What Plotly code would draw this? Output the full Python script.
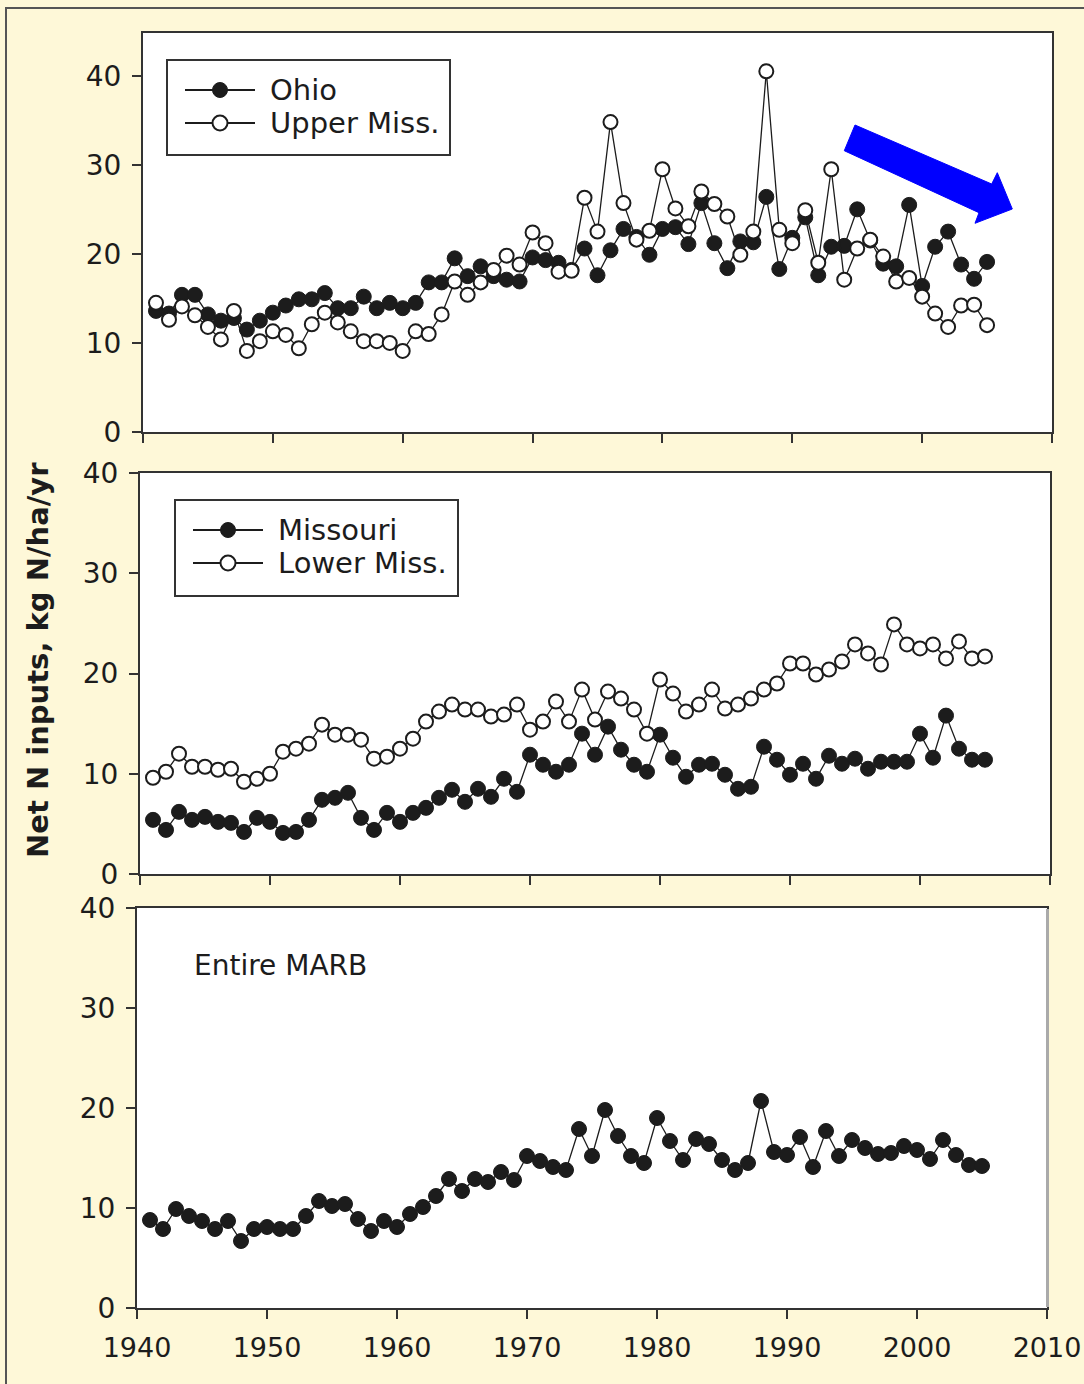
import plotly.graph_objects as go

years = list(range(1941, 2006))

ohio = [13.6, 13.3, 15.4, 15.4, 13.2, 12.5, 12.8, 11.5, 12.5, 13.4,
        14.2, 14.9, 14.9, 15.6, 13.9, 13.9, 15.2, 13.9, 14.5, 13.9,
        14.5, 16.8, 16.8, 19.5, 17.5, 18.6, 17.5, 17.1, 16.9, 19.6,
        19.3, 19.0, 18.2, 20.6, 17.6, 20.4, 22.8, 21.9, 19.9, 22.8,
        23.0, 21.1, 25.7, 21.2, 18.4, 21.4, 21.3, 26.4, 18.3, 21.8,
        24.1, 17.6, 20.8, 20.9, 25.0, 21.5, 18.9, 18.6, 25.5, 16.4,
        20.8, 22.5, 18.8, 17.2, 19.1]
upper_miss = [14.5, 12.6, 14.1, 13.1, 11.8, 10.4, 13.6, 9.1, 10.2, 11.3,
              10.9, 9.4, 12.1, 13.4, 12.3, 11.3, 10.2, 10.2, 10.0, 9.1,
              11.3, 11.0, 13.2, 16.9, 15.4, 16.8, 18.2, 19.8, 18.8, 22.4,
              21.2, 18.0, 18.1, 26.3, 22.5, 34.8, 25.7, 21.6, 22.6, 29.5,
              25.1, 23.1, 27.0, 25.6, 24.2, 19.9, 22.5, 40.5, 22.7, 21.2,
              24.9, 19.0, 29.5, 17.1, 20.6, 21.6, 19.7, 16.9, 17.3, 15.2,
              13.3, 11.8, 14.2, 14.3, 12.0]
missouri = [5.4, 4.4, 6.2, 5.4, 5.7, 5.2, 5.1, 4.2, 5.6, 5.2,
            4.1, 4.2, 5.4, 7.4, 7.6, 8.1, 5.6, 4.4, 6.1, 5.2,
            6.1, 6.6, 7.6, 8.4, 7.2, 8.5, 7.7, 9.5, 8.2, 11.9,
            10.9, 10.2, 10.9, 14.0, 11.9, 14.7, 12.4, 10.9, 10.2, 13.9,
            11.6, 9.7, 10.9, 11.0, 9.9, 8.5, 8.7, 12.7, 11.4, 9.9,
            11.0, 9.5, 11.8, 11.0, 11.5, 10.5, 11.2, 11.2, 11.2, 14.0,
            11.6, 15.8, 12.5, 11.4, 11.4]
lower_miss = [9.6, 10.2, 12.0, 10.7, 10.7, 10.4, 10.5, 9.2, 9.5, 10.0,
              12.2, 12.5, 13.0, 14.9, 13.9, 13.9, 13.4, 11.5, 11.7, 12.5,
              13.5, 15.2, 16.2, 16.9, 16.4, 16.4, 15.7, 15.9, 16.9, 14.4,
              15.2, 17.2, 15.2, 18.4, 15.4, 18.2, 17.5, 16.4, 14.0, 19.4,
              18.0, 16.2, 16.9, 18.4, 16.5, 16.9, 17.5, 18.4, 19.0, 21.0,
              21.0, 19.9, 20.4, 21.2, 22.9, 22.0, 20.9, 24.9, 22.9, 22.5,
              22.9, 21.5, 23.2, 21.5, 21.7]
marb = [8.8, 7.9, 9.9, 9.2, 8.7, 7.9, 8.7, 6.7, 7.9, 8.1,
        7.9, 7.9, 9.2, 10.7, 10.2, 10.4, 8.9, 7.7, 8.7, 8.1,
        9.4, 10.1, 11.2, 12.9, 11.7, 12.9, 12.6, 13.6, 12.8, 15.2,
        14.7, 14.1, 13.8, 17.9, 15.2, 19.8, 17.2, 15.2, 14.5, 19.0,
        16.7, 14.8, 16.9, 16.4, 14.8, 13.8, 14.5, 20.7, 15.6, 15.3,
        17.1, 14.1, 17.7, 15.2, 16.8, 16.0, 15.4, 15.5, 16.2, 15.8,
        14.9, 16.8, 15.3, 14.3, 14.2]

x_ticks = [1940, 1950, 1960, 1970, 1980, 1990, 2000, 2010]
y_ticks = [0, 10, 20, 30, 40]

legend1_labels = ["Ohio", "Upper Miss."]
legend2_labels = ["Missouri", "Lower Miss."]
panel3_label = "Entire MARB"
y_title = "Net N inputs, kg N/ha/yr"

W, H = 1084, 1384
BG = "#FEF8D8"
INK = "#1c1c1c"
FONT = "DejaVu Sans"


def px(x):
    return x / W


def py(y):
    return 1 - y / H


filled = dict(symbol="circle", size=15, color=INK, line=dict(color=INK, width=1))
hollow = dict(symbol="circle", size=14, color="white", line=dict(color=INK, width=2))
line_style = dict(color=INK, width=1.3)

fig = go.Figure()
fig.add_trace(go.Scatter(x=years, y=ohio, mode="lines+markers", name=legend1_labels[0],
                         marker=filled, line=line_style, xaxis="x", yaxis="y"))
fig.add_trace(go.Scatter(x=years, y=upper_miss, mode="lines+markers", name=legend1_labels[1],
                         marker=hollow, line=line_style, xaxis="x", yaxis="y"))
fig.add_trace(go.Scatter(x=years, y=missouri, mode="lines+markers", name=legend2_labels[0],
                         marker=filled, line=line_style, xaxis="x2", yaxis="y2"))
fig.add_trace(go.Scatter(x=years, y=lower_miss, mode="lines+markers", name=legend2_labels[1],
                         marker=hollow, line=line_style, xaxis="x2", yaxis="y2"))
fig.add_trace(go.Scatter(x=years, y=marb, mode="lines+markers", name=panel3_label,
                         marker=filled, line=line_style, xaxis="x3", yaxis="y3"))

xtickfont = dict(family=FONT, size=27, color=INK)
ytickfont = dict(family=FONT, size=28, color=INK)


def xaxis(dom, anchor, labels):
    return dict(domain=dom, anchor=anchor, range=[1940, 2010], tickvals=x_ticks,
                showticklabels=labels, ticks="outside", ticklen=9, tickwidth=2,
                tickcolor="#333", showline=True, linecolor="#333", linewidth=2,
                mirror=True, showgrid=False, zeroline=False, tickfont=xtickfont,
                automargin=False, ticklabelstandoff=6, ticklabeloverflow="allow")


def yaxis(dom, anchor, top):
    return dict(domain=dom, anchor=anchor, range=[0, top], tickvals=y_ticks,
                ticks="outside", ticklen=9, tickwidth=2, tickcolor="#333",
                showline=True, linecolor="#333", linewidth=2, mirror=True,
                showgrid=False, zeroline=False, tickfont=ytickfont,
                automargin=False, ticklabelstandoff=5, ticklabeloverflow="allow")


shapes = [
    # outer frame of the figure
    dict(type="rect", xref="paper", yref="paper", x0=px(6), y0=py(1400),
         x1=px(1100), y1=py(8), line=dict(color="#555", width=2),
         fillcolor="rgba(0,0,0,0)", layer="below"),
    # light right edge of bottom panel
    dict(type="line", xref="paper", yref="paper", x0=px(1047.5), x1=px(1047.5),
         y0=py(1307), y1=py(909), line=dict(color="#aaaaaa", width=3)),
]
annotations = []


def add_legend(box, rows, labels):
    x0, y0, x1, y1 = box
    shapes.append(dict(type="rect", xref="paper", yref="paper", x0=px(x0), x1=px(x1),
                       y0=py(y1), y1=py(y0), line=dict(color="#333", width=2),
                       fillcolor="white"))
    for i, (ry, lab) in enumerate(zip(rows, labels)):
        lx0, lx1 = x0 + 18, x0 + 88
        cx = (lx0 + lx1) / 2
        shapes.append(dict(type="line", xref="paper", yref="paper", x0=px(lx0), x1=px(lx1),
                           y0=py(ry), y1=py(ry), line=dict(color=INK, width=2)))
        r = 7.5
        if i == 0:
            shapes.append(dict(type="circle", xref="paper", yref="paper",
                               x0=px(cx - r), x1=px(cx + r), y0=py(ry + r), y1=py(ry - r),
                               fillcolor=INK, line=dict(color=INK, width=1)))
        else:
            shapes.append(dict(type="circle", xref="paper", yref="paper",
                               x0=px(cx - r), x1=px(cx + r), y0=py(ry + r), y1=py(ry - r),
                               fillcolor="white", line=dict(color=INK, width=2)))
        annotations.append(dict(text=lab, xref="paper", yref="paper", x=px(x0 + 101),
                                y=py(ry), xanchor="left", yanchor="middle", showarrow=False,
                                font=dict(family=FONT, size=29, color=INK)))


add_legend((167, 60, 450, 155), (90, 123), legend1_labels)
add_legend((175, 500, 458, 596), (530, 563), legend2_labels)

# blue arrow outline (pixels)
arrow_px = [(855, 125), (991.7, 184), (997.3, 172.7), (1012.3, 209),
            (975, 223.3), (979, 212.7), (844.3, 150.7)]
arrow_path = "M " + " L ".join(f"{px(a):.5f},{py(b):.5f}" for a, b in arrow_px) + " Z"
shapes.append(dict(type="path", xref="paper", yref="paper", path=arrow_path,
                   fillcolor="#0000FF", line=dict(color="#0000FF", width=1)))

annotations += [
    dict(text=y_title, xref="paper", yref="paper",
         x=px(38), y=py(660), showarrow=False, textangle=-90,
         font=dict(family=FONT, size=29, color=INK, weight="bold"),
         xanchor="center", yanchor="middle"),
    dict(text=panel3_label, xref="paper", yref="paper",
         x=px(192), y=py(965), showarrow=False,
         font=dict(family=FONT, size=28, color=INK),
         xanchor="left", yanchor="middle"),
]

fig.update_layout(
    width=W, height=H,
    margin=dict(l=0, r=0, t=0, b=0),
    paper_bgcolor=BG, plot_bgcolor="white",
    showlegend=False,
    font=dict(family=FONT, color=INK),
    xaxis=xaxis([px(143), px(1052)], "y", False),
    yaxis=yaxis([py(432), py(33)], "x", 44.8),
    xaxis2=xaxis([px(140), px(1050)], "y2", False),
    yaxis2=yaxis([py(874), py(473)], "x2", 40),
    xaxis3=xaxis([px(137), px(1047)], "y3", True),
    yaxis3=yaxis([py(1308), py(908)], "x3", 40),
    shapes=shapes,
    annotations=annotations,
)

fig.write_html(
    "out.html",
    config={"displayModeBar": False},
    post_script="document.body.style.margin='0';document.body.style.padding='0';"
                "document.documentElement.style.overflow='hidden';",
)
